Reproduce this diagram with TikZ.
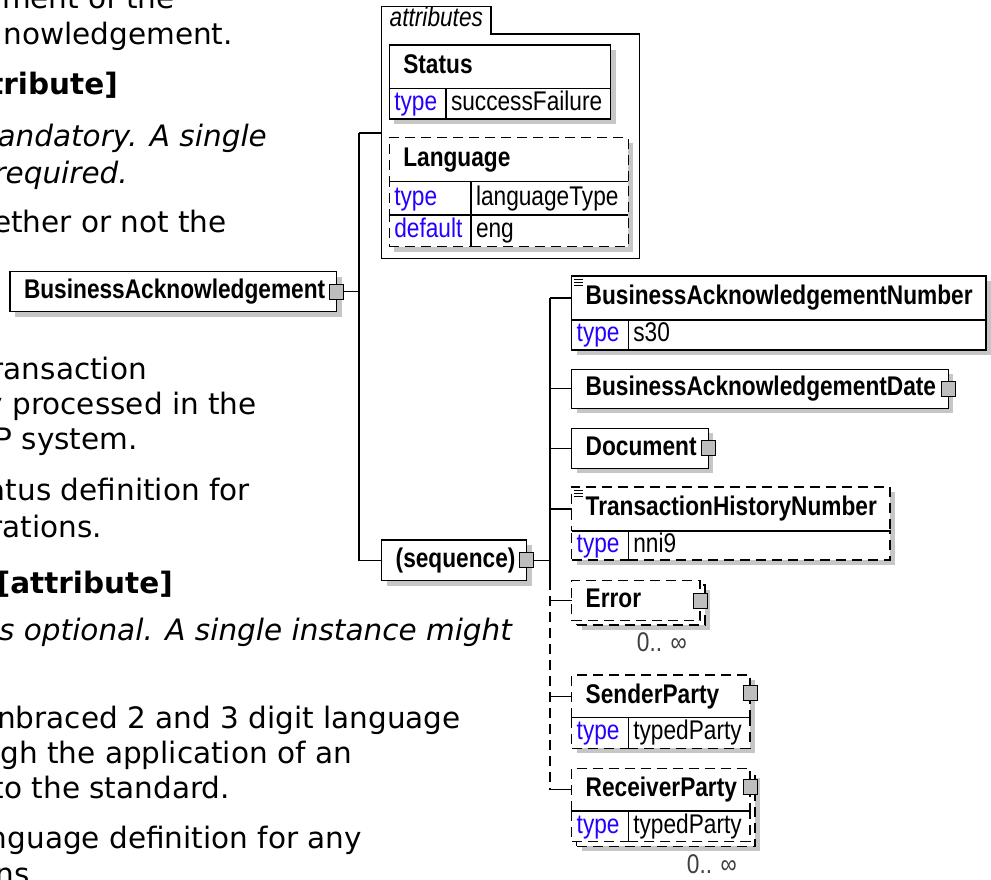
\documentclass[tikz,border=0pt]{standalone}
\usepackage{fontspec}
\setmainfont{DejaVu Sans}
\newfontfamily\dgfont[FakeStretch=0.84]{Liberation Sans}
\usetikzlibrary{shadows}
\definecolor{keyblue}{RGB}{35,0,255}
\definecolor{shadegrey}{RGB}{198,198,198}
\definecolor{btngrey}{RGB}{190,190,190}
\newcommand{\dgsize}{\fontsize{27}{32}\selectfont}

\begin{document}
\begin{tikzpicture}[x=1pt, y=-1pt,
  body/.style={font=\fontsize{29.5}{35}\selectfont, anchor=base east, inner sep=0pt},
  boxline/.style={line width=1.2pt},
  optl/.style={dash pattern=on 10pt off 6pt},
  shd/.style={drop shadow={shadow xshift=5pt, shadow yshift=-5pt, fill=shadegrey, opacity=1}},
  hdr/.style={boxline, draw, fill=white, font=\dgfont\dgsize\bfseries, align=left, anchor=north west,
    inner xsep=14pt, inner ysep=0pt, outer sep=0pt, text height=19pt, text depth=5.5pt},
  cell/.style={hdr, font=\dgfont\dgsize, inner xsep=5pt},
  keyc/.style={cell, text=keyblue},
  btn/.style={draw, fill=btngrey, line width=1pt, minimum width=14pt, minimum height=15pt, inner sep=0pt},
  link/.style={line width=1.2pt},
  occ/.style={font=\dgfont\dgsize, text=black!75, anchor=base west, inner sep=0pt}]
  \useasboundingbox[fill=white] (0,0) rectangle (991,880);

  % text of the page behind the diagram
  \node[body] (l1) at (175,9) {ment of the};
  \node[body] (l2) at (233,45) {nowledgement.};
  \node[body] (l3) at (118,95) {\bfseries tribute]};
  \node[body] (l4) at (267,147) {\itshape andatory. A single};
  \node[body] (l5) at (128,183) {\itshape required.};
  \node[body] (l6) at (227,233) {ether or not the};
  \node[body] (l7) at (147,379) {ransaction};
  \node[body] (l8) at (257,414) {y processed in the};
  \node[body] (l9) at (138,449) {P system.};
  \node[body] (l10) at (250,500) {atus definition for};
  \node[body] (l11) at (102,537) {rations.};
  \node[body] (l12) at (173,593) {\bfseries [attribute]};
  \node[body, anchor=base west] (l13) at (-1,640) {\itshape s optional. A single instance might};
  \node[body, anchor=base west] (l14) at (-3,728) {nbraced 2 and 3 digit language};
  \node[body] (l15) at (352,763) {ugh the application of an};
  \node[body] (l16) at (230,798) {to the standard.};
  \node[body] (l17) at (362,848) {nguage definition for any};
  \node[body] (l18) at (30,884) {ns};

  % attributes
  \node[inner sep=0pt, outer sep=0pt, minimum width=257.6pt, minimum height=224.3pt, anchor=north west] (attrs) at (381.7,34) {};
  \node[font=\dgfont\dgsize\itshape, anchor=south west, inner xsep=8pt, inner ysep=0pt, outer sep=0pt,
    minimum height=27.3pt, text height=18pt, text depth=5pt] (attrs-tab) at (attrs.north west) {attributes};
  \draw[boxline] (attrs.south west) |- (attrs-tab.north east) |- (attrs.north east) -- (attrs.south east) -- cycle;

  \node[hdr, shd, text width=193.4pt, minimum height=43.3pt] (st) at (389.3,45) {Status};
  \node[keyc, shd, text width=46.7pt, minimum height=30.7pt] (st-k) at (st.south west) {type};
  \node[cell, shd, text width=154.7pt, minimum height=30.7pt] (st-v) at (st-k.north east) {successFailure};

  \node[hdr, optl, shd, text width=211pt, minimum height=44pt] (lang) at (389.3,137.7) {Language};
  \node[keyc, optl, shd, text width=71.7pt, minimum height=33.3pt] (lang-k1) at (lang.south west) {type};
  \node[cell, optl, shd, text width=147.3pt, minimum height=33.3pt] (lang-v1) at (lang-k1.north east) {languageType};
  \node[keyc, optl, shd, text width=71.7pt, minimum height=31.7pt] (lang-k2) at (lang-k1.south west) {default};
  \node[cell, optl, shd, text width=147.3pt, minimum height=31.7pt] (lang-v2) at (lang-k2.north east) {eng};
  \draw[boxline] (lang.south west) -- (lang.south east) (lang-k1.south west) -- (lang-v1.south east)
    (lang-k1.north east) -- (lang-k2.south east);

  % root and sequence
  \node[hdr, shd, text width=298.7pt, minimum height=40pt] (ba) at (10,271.7) {BusinessAcknowledgement};
  \node[btn] (ba-x) at (ba.east) {};
  \node[hdr, shd, align=center, text width=117pt, minimum height=40.7pt] (seq) at (381.7,540) {(sequence)};
  \node[btn] (seq-x) at (seq.east) {};

  % children
  \node[hdr, shd, text width=386.3pt, minimum height=44pt] (ban) at (571.7,276) {BusinessAcknowledgementNumber};
  \node[keyc, shd, text width=46.6pt, minimum height=30pt] (ban-k) at (ban.south west) {type};
  \node[cell, shd, text width=347.7pt, minimum height=30pt] (ban-v) at (ban-k.north east) {s30};

  \node[hdr, shd, text width=348.6pt, minimum height=39pt] (bad) at (571.7,369.3) {BusinessAcknowledgementDate};
  \node[btn] (bad-x) at (bad.east) {};

  \node[hdr, shd, text width=108.6pt, minimum height=40pt] (doc) at (571.7,428.3) {Document};
  \node[btn] (doc-x) at (doc.east) {};

  \node[hdr, optl, shd, text width=290.3pt, minimum height=44pt] (thn) at (571.7,487) {TransactionHistoryNumber};
  \node[keyc, optl, shd, text width=46.6pt, minimum height=29pt] (thn-k) at (thn.south west) {type};
  \node[cell, optl, shd, text width=251.7pt, minimum height=29pt] (thn-v) at (thn-k.north east) {nni9};
  \draw[boxline] (thn.south west) -- (thn.south east) (thn-k.north east) -- (thn-k.south east);

  \node[hdr, optl, shd, minimum width=128.3pt, minimum height=40pt] (err-bk) at (576.7,585) {};
  \node[hdr, optl, text width=100.3pt, minimum height=40pt] (err) at (571.7,580.7) {Error};
  \node[btn] (err-x) at (err.east) {};
  \node[occ] (err-n) at (636.7,651.7) {0.. ∞};

  \node[hdr, optl, shd, text width=150.3pt, minimum height=42.7pt] (sp) at (571.7,675) {SenderParty};
  \node[keyc, optl, shd, text width=46.6pt, minimum height=30.6pt] (sp-k) at (sp.south west) {type};
  \node[cell, optl, shd, text width=111.7pt, minimum height=30.6pt] (sp-v) at (sp-k.north east) {typedParty};
  \draw[boxline] (sp.south west) -- (sp.south east) (sp-k.north east) -- (sp-k.south east);
  \node[btn] (sp-x) at ([yshift=3pt]sp.east) {};

  \node[hdr, optl, shd, minimum width=178.3pt, minimum height=73.4pt] (rcv-bk) at (576.7,773) {};
  \node[hdr, optl, text width=150.3pt, minimum height=42.7pt] (rcv) at (571.7,768.3) {ReceiverParty};
  \node[keyc, optl, text width=46.6pt, minimum height=30.7pt] (rcv-k) at (rcv.south west) {type};
  \node[cell, optl, text width=111.7pt, minimum height=30.7pt] (rcv-v) at (rcv-k.north east) {typedParty};
  \draw[boxline] (rcv.south west) -- (rcv.south east) (rcv-k.north east) -- (rcv-k.south east);
  \node[btn] (rcv-x) at ([yshift=3pt]rcv.east) {};
  \node[occ] (rcv-n) at (686.7,873.3) {0.. ∞};

  \foreach \el in {ban,thn}
    \foreach \d in {3pt,6pt,9pt}
      \draw[line width=0.9pt] ([xshift=2.5pt, yshift=-\d]\el.north west) -- ++(9,0);

  % connectors
  \coordinate (tk1) at (359,133);
  \coordinate (tk2) at (550,580);
  \draw[link] (tk1) -- (tk1 -| attrs.west);
  \draw[link] (tk1) |- (seq.west);
  \draw[link] (ba-x.east) -- (ba-x.east -| tk1);
  \draw[link] (seq-x.east) -- (seq-x.east -| tk2);
  \draw[link] (ban.west -| tk2) -- (tk2);
  \draw[link, optl] (tk2) -- (rcv.west -| tk2);
  \foreach \el in {ban,bad,doc,thn,err,sp,rcv}
    \draw[link] (\el.west -| tk2) -- (\el.west);
\end{tikzpicture}
\end{document}
